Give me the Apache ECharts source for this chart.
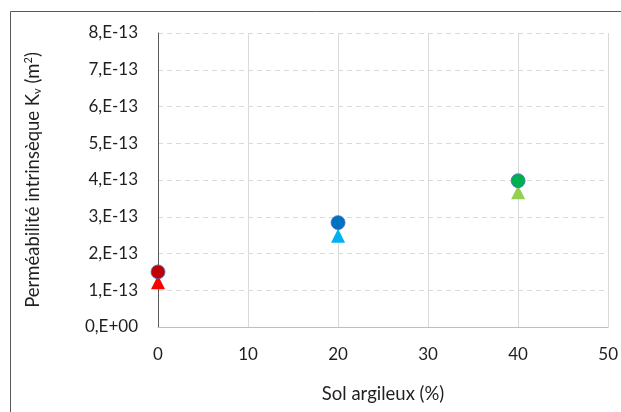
<!DOCTYPE html>
<html><head><meta charset="utf-8">
<script src="https://cdn.jsdelivr.net/npm/echarts@6/dist/echarts.min.js"></script>
<style>html,body{margin:0;padding:0;background:#fff}#c{width:621px;height:412px}</style>
</head><body><div id="c"></div>
<script>
const xCats = [0, 20, 40];
const circleVals = [1.50e-13, 2.84e-13, 3.98e-13];
const triangleVals = [1.22e-13, 2.48e-13, 3.67e-13];
const circleColors = ['#C00000', '#0070C0', '#00B050'];
const triangleColors = ['#FF0000', '#00B0F0', '#92D050'];
const xTicks = [0, 10, 20, 30, 40, 50];
const yTickLabels = ['0,E+00','1,E-13','2,E-13','3,E-13','4,E-13','5,E-13','6,E-13','7,E-13','8,E-13'];

const chart = echarts.init(document.getElementById('c'), null, {renderer:'canvas'});
const font = 'Lato, "Open Sans", sans-serif';
const txt = '#1f1f1f';
const series = [];
xCats.forEach((x, i) => {
  series.push({type:'scatter', symbol:'triangle', symbolSize:14, clip:false, z:2,
    data:[[x, triangleVals[i]]], itemStyle:{color:triangleColors[i], opacity:1}});
  series.push({type:'scatter', symbol:'circle', symbolSize:14, clip:false, z:3,
    data:[[x, circleVals[i]]], itemStyle:{color:circleColors[i], borderColor:'#4472C4', borderWidth:0.8, opacity:1}});
});
chart.setOption({
  animation:false,
  graphic:[{type:'rect', shape:{x:10.5, y:11.5, width:700, height:500}, style:{fill:'none', stroke:'#595959', lineWidth:1}}],
  grid:{left:158, right:9, top:33, bottom:85},
  xAxis:{type:'value', min:0, max:50, interval:10,
    name:'Sol argileux (%)', nameLocation:'middle', nameGap:58,
    nameTextStyle:{fontFamily:font, fontSize:18.5, color:txt},
    axisLine:{show:true, lineStyle:{color:'#BFBFBF'}},
    axisTick:{show:false},
    axisLabel:{fontFamily:font, fontSize:17, color:txt, margin:19},
    splitLine:{show:true, lineStyle:{color:'#D9D9D9', type:'solid'}}},
  yAxis:{type:'value', min:0, max:8e-13, interval:1e-13,
    name:'{a|Perméabilité intrinsèque K}{s|v}{a| (m}{p|2}{a|)}', nameLocation:'middle', nameGap:115,
    nameTextStyle:{rich:{a:{fontFamily:font, fontSize:18.5, color:txt},
      s:{fontFamily:font, fontSize:11, color:txt, verticalAlign:'bottom', padding:[9,0,0,0]},
      p:{fontFamily:font, fontSize:11, color:txt, verticalAlign:'top', padding:[0,0,9,0]}}},
    axisLine:{show:true, lineStyle:{color:'#595959'}},
    axisTick:{show:false},
    axisLabel:{fontFamily:font, fontSize:17, color:txt, margin:20,
      formatter:(v)=>yTickLabels[Math.round(v/1e-13)]},
    splitLine:{show:true, lineStyle:{color:'#D9D9D9', type:[5,4]}}},
  series:series
});
</script></body></html>
